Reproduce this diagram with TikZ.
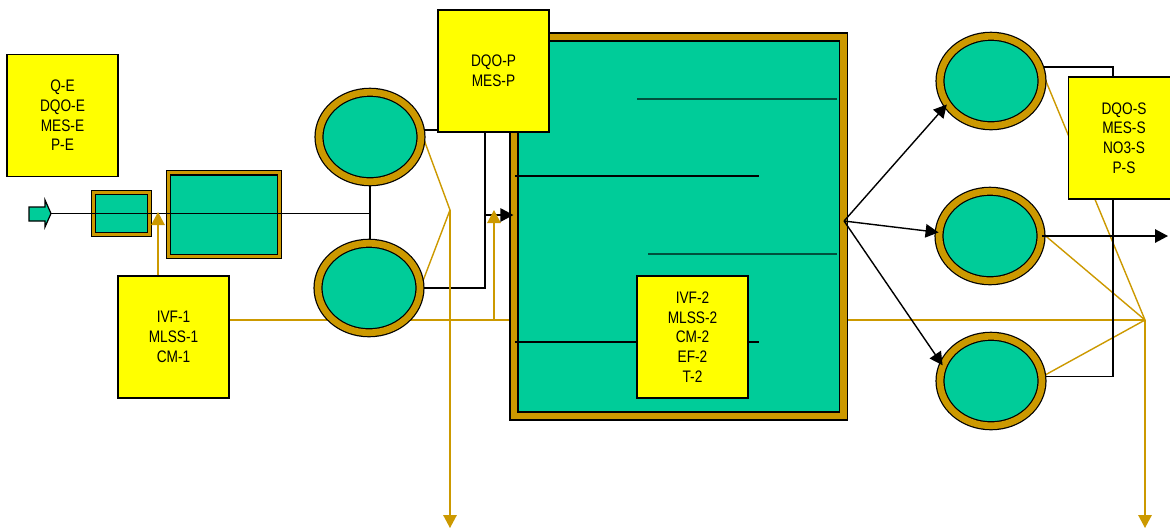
\documentclass[tikz,border=0pt]{standalone}
\usepackage{fontspec}
\newfontfamily\hepchu[FakeStretch=0.82]{Liberation Sans}
\usepackage{xcolor}
\usepackage{tikz}
\usetikzlibrary{calc, shapes.geometric, positioning, arrows.meta, backgrounds}

\definecolor{xanhbe}{HTML}{00CC99}
\definecolor{vienvang}{HTML}{CC9900}
\definecolor{nenvang}{HTML}{FFFF00}
\definecolor{xanhdam}{HTML}{00503C}

\begin{document}
\begin{tikzpicture}[x=0.02cm, y=-0.02cm, >={Triangle[length=0.26cm,width=0.27cm]},
    thongso/.style={draw, line width=0.7pt, fill=nenvang, minimum width=2.22cm,
        minimum height=2.44cm, inner sep=0pt, align=center,
        font=\hepchu\fontsize{9.5}{11.2}\selectfont},
    lang/.style={ellipse, draw, line width=0.7pt, double=vienvang, double distance=3.8pt,
        fill=xanhbe, minimum width=2.04cm, minimum height=1.79cm, inner sep=0pt},
    bon/.style={rectangle, draw, line width=0.7pt, double=vienvang, fill=xanhbe, inner sep=0pt},
    day/.style={line width=0.8pt},
    vang/.style={draw=vienvang, line width=0.8pt}]

    \useasboundingbox (0,0) rectangle (1170,529);

    % =================================================================
    % CÁC TỌA ĐỘ NỐI
    % =================================================================
    \coordinate (vao) at (51,213.5);
    \coordinate (nga2) at (485,215);
    \coordinate (nga3) at (494,320);
    \coordinate (dinh1) at (158,212);
    \coordinate (dinh3) at (494,210);
    \coordinate (hoi1) at (450,210);
    \coordinate (hoi2) at (1145,320);
    \coordinate (ra1) at (450,528);
    \coordinate (ra2) at (1145,528);
    \coordinate (tru) at (1113,0);
    \coordinate (raphai) at (1168,0);

    % =================================================================
    % XỬ LÝ SƠ BỘ VÀ LẮNG SƠ CẤP
    % =================================================================
    \node[bon, double distance=1.2pt, minimum width=1.12cm, minimum height=0.84cm] (song) at (121.5,213.5) {};
    \node[bon, double distance=2pt, minimum width=2.22cm, minimum height=1.68cm] (cat) at (224,214.5) {};
    \node[lang] (lang1) at (370,137) {};
    \node[lang] (lang2) at (369,288) {};

    % =================================================================
    % BỂ SỤC KHÍ
    % =================================================================
    \node[bon, double distance=3.8pt, minimum width=6.59cm, minimum height=7.58cm] (be) at (678.75,226.5) {};
    \draw[day, xanhdam] (637,99) -- (837,99);
    \draw[day] (515,176) -- (759,176);
    \draw[day, xanhdam] (648,254) -- (837,254);
    \draw[day] (515,342) -- (759,342);
    \node[thongso] (ttIVF2) at (692.5,337) {IVF-2\\MLSS-2\\CM-2\\EF-2\\T-2};
    \node[thongso] (ttP) at (493.5,71) {DQO-P\\MES-P};

    % =================================================================
    % LẮNG THỨ CẤP
    % =================================================================
    \node[lang] (lang3) at (991,81) {};
    \node[lang] (lang4) at (990,236) {};
    \node[lang] (lang5) at (991,381) {};
    \node[thongso] (ttS) at (1124,138) {DQO-S\\MES-S\\NO3-S\\P-S};

    % Các bảng thông số còn lại
    \node[thongso] (ttE) at (62.5,115.5) {Q-E\\DQO-E\\MES-E\\P-E};
    \node[thongso] (ttIVF1) at (173.5,337) {IVF-1\\MLSS-1\\CM-1};

    % =================================================================
    % CÁC ĐƯỜNG NỐI NẰM DƯỚI
    % =================================================================
    \begin{scope}[on background layer]
        \draw[day] (lang1.south) -- (lang1.south |- lang2.north);
        \draw[day] (lang1.8) -- (lang1.8 -| ttP.west);
        \draw[day] (lang2.east) -| (nga2 |- ttP.south);
        \draw[vang] (lang1.5) -- (hoi1) -- (lang2.1);
        \draw[vang] (ttIVF1.east |- hoi2) -- (hoi2);
        \draw[vang] (lang3.16) -- (hoi2);
        \draw[vang] (lang4.4) -- (hoi2);
        \draw[vang] (lang5.5) -- (hoi2);
        \draw[day] (lang3.16) -- (lang3.16 -| tru) -- (lang5.5 -| tru) -- (lang5.5);
    \end{scope}

    % =================================================================
    % DÒNG VÀO VÀ CÁC MŨI TÊN
    % =================================================================
    \draw[line width=0.7pt, fill=xanhbe] (29,207) -- (45,207) -- (45,200) -- (vao) -- (45,227) -- (45,221) -- (29,221) -- cycle;
    \coordinate (nga1) at (lang1.south |- vao);
    \draw[day] (vao) -- (nga1);
    \draw[day, ->] (nga2) -- (nga2 -| be.west);
    \draw[vang, ->] (ttIVF1.north -| dinh1) -- (dinh1);
    \draw[vang, ->] (nga3) -- (dinh3);
    \draw[vang, ->] (hoi1) -- (ra1);
    \draw[vang, ->] (hoi2) -- (ra2);

    \coordinate (ra) at (be.east |- 0,221);
    \draw[day, ->] (ra) -- (lang3.208);
    \draw[day, ->] (ra) -- (lang4.176);
    \draw[day, ->] (ra) -- (lang5.162);
    \draw[day, ->] (lang4.east) -- (lang4.east -| raphai);

\end{tikzpicture}
\end{document}
